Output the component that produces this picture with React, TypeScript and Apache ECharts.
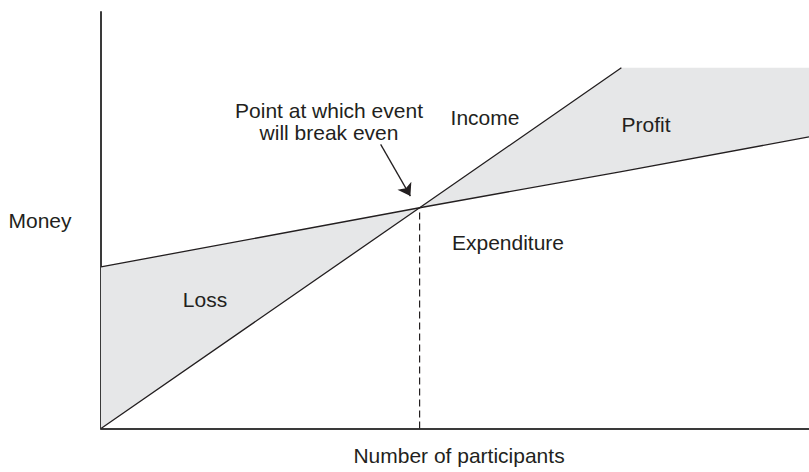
import React, { useEffect, useRef } from "react";
import * as echarts from "echarts";

// Break-even chart data (participants on x, money on y, arbitrary units)
const participants = [0, 45, 73.5, 100];
const incomeValues = [0, 53, 86.6];
const expenditureValues = [38.8, 53, 61.7, 70];
const profitCeiling = 86.6;
const breakEvenIndex = 1;
const arrowFrom = [39.5, 68.2];
const arrowTo = [43.7, 55.8];

const labels = {
  yName: "Money",
  xName: "Number of participants",
  point: "Point at which event\nwill break even",
  income: "Income",
  profit: "Profit",
  expenditure: "Expenditure",
  loss: "Loss",
};

export default function App() {
  const ref = useRef<HTMLDivElement>(null);
  useEffect(() => {
    const chart = echarts.init(ref.current!, null, { renderer: "svg" });
    const ink = "#231f20";
    const shade = "#e6e7e8";
    const font = "'Liberation Sans', Arial, Helvetica, sans-serif";
    const incomeData = incomeValues.map((v, i) => [participants[i], v]);
    const expData = expenditureValues.map((v, i) => [participants[i], v]);
    const be = [participants[breakEvenIndex], incomeValues[breakEvenIndex]];
    const lossPoly = [
      [participants[0], incomeValues[0]],
      [participants[0], expenditureValues[0]],
      be,
    ];
    const profitPoly = [
      be,
      [participants[2], incomeValues[2]],
      [participants[3], profitCeiling],
      [participants[3], expenditureValues[3]],
    ];
    const polys = [lossPoly, profitPoly];
    const txt = (text: string, x: number, y: number, size: number, extra: any = {}) => ({
      type: "text",
      x,
      y,
      z: 100,
      silent: true,
      style: {
        text,
        fill: ink,
        font: `${size}px ${font}`,
        align: "center",
        verticalAlign: "middle",
        textAlign: "center",
        textVerticalAlign: "middle",
        ...extra,
      },
    });
    chart.setOption({
      animation: false,
      grid: { left: 101, top: 12, right: 0, bottom: 43.5, containLabel: false },
      xAxis: {
        type: "value",
        min: 0,
        max: 100,
        axisLine: { show: true, lineStyle: { color: "#3a3a3a", width: 2 } },
        axisTick: { show: false },
        axisLabel: { show: false },
        splitLine: { show: false },
      },
      yAxis: {
        type: "value",
        min: 0,
        max: 100,
        axisLine: { show: true, lineStyle: { color: "#3a3a3a", width: 2 } },
        axisTick: { show: false },
        axisLabel: { show: false },
        splitLine: { show: false },
      },
      series: [
        {
          type: "custom",
          z: 1,
          silent: true,
          data: polys.map((_, i) => [i, 0]),
          renderItem: (params: any, api: any) => ({
            type: "polygon",
            shape: { points: polys[params.dataIndex].map((p) => api.coord(p)) },
            style: { fill: shade },
          }),
        },
        {
          type: "line",
          name: "Income",
          z: 3,
          data: incomeData,
          showSymbol: false,
          symbol: "none",
          lineStyle: { color: ink, width: 1.3 },
        },
        {
          type: "line",
          name: "Expenditure",
          z: 3,
          data: expData,
          showSymbol: false,
          symbol: "none",
          lineStyle: { color: ink, width: 1.3 },
        },
        {
          type: "line",
          name: "Break-even",
          z: 2,
          data: [[be[0], 0], be],
          showSymbol: false,
          symbol: "none",
          lineStyle: { color: ink, width: 1.2, type: [7, 4] },
        },
        {
          type: "lines",
          coordinateSystem: "cartesian2d",
          z: 4,
          symbol: ["none", "arrow"],
          symbolSize: 12,
          data: [{ coords: [arrowFrom, arrowTo] }],
          lineStyle: { color: ink, width: 1.3, opacity: 1 },
        },
      ],
      graphic: [
        txt(labels.yName, 40, 220, 21),
        txt(labels.xName, 459, 455, 21),
        txt(labels.point, 329, 121.5, 21, { lineHeight: 22 }),
        txt(labels.income, 485, 117.5, 21),
        txt(labels.profit, 646, 124, 21),
        txt(labels.expenditure, 508, 242, 21),
        txt(labels.loss, 205, 299, 21),
      ],
    });
    return () => chart.dispose();
  }, []);
  return (
    <div
      ref={ref}
      style={{ position: "fixed", left: 0, top: 0, width: 809, height: 472, background: "#fff" }}
    />
  );
}
